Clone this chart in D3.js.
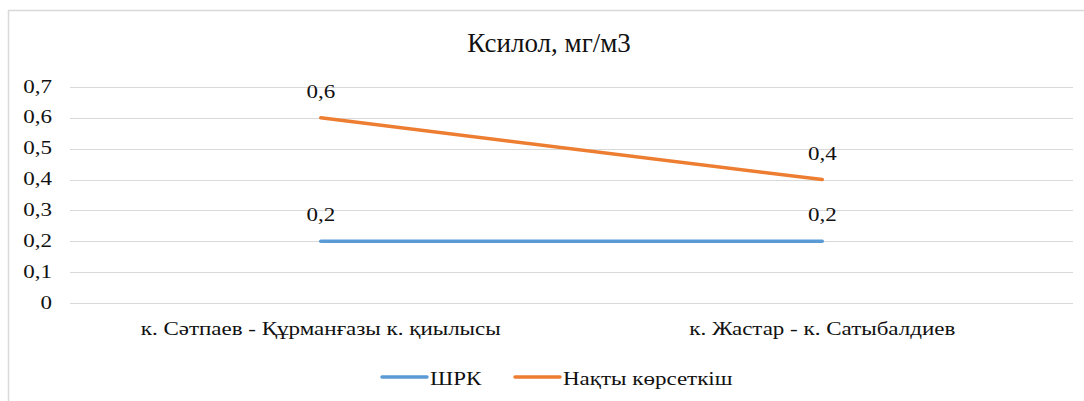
<!DOCTYPE html>
<html><head><meta charset="utf-8">
<script src="https://cdn.jsdelivr.net/npm/d3@7"></script>
<style>body{margin:0;background:#fff;font-family:"Liberation Serif","Times New Roman",Tinos,serif}svg{display:block}
svg text{font-family:"Liberation Serif","Times New Roman",Tinos,serif}</style>
</head><body><svg id="c" width="1084" height="401"></svg>
<script>
const categories = ["к. Сәтпаев - Құрманғазы к. қиылысы", "к. Жастар - к. Сатыбалдиев"];
const seriesNames = ["ШРК", "Нақты көрсеткіш"];
const shrk = [0.2, 0.2];
const nakty = [0.6, 0.4];
const yTicks = [0, 0.1, 0.2, 0.3, 0.4, 0.5, 0.6, 0.7];
const colors = ["#5b9bd5", "#ed7d31"];
const title = "Ксилол, мг/м3";

const svg = d3.select("#c");
const FS = 19.5, SX = 1.18;
const W = 1084, H = 401;

function label(g, x, y, txt, anchor, size, sx) {
  return g.append("text")
    .attr("transform", `translate(${x},${y}) scale(${sx},1)`)
    .attr("text-anchor", anchor)
    .attr("font-size", size)
    .attr("fill", "#111").text(txt);
}

// frame
svg.append("path").attr("d", `M8.5,${H} V10.5 H${W}`).attr("fill","none").attr("stroke","#d9d9d9").attr("stroke-width",1.5);

const x = d3.scaleBand().domain(categories).range([70, 1073]);
const y = d3.scaleLinear().domain([0, 0.7]).range([303, 87]);
const fmt = d => d === 0 ? "0" : d3.format(".1f")(d).replace(".", ",");
const cx = c => x(c) + x.bandwidth() / 2;

// grid
svg.append("g").selectAll("line").data(yTicks).join("line")
  .attr("x1", 70).attr("x2", 1073)
  .attr("y1", d => Math.round(y(d)) + 0.5).attr("y2", d => Math.round(y(d)) + 0.5)
  .attr("stroke", "#d9d9d9").attr("stroke-width", 1);

const gy = svg.append("g");
yTicks.forEach(t => label(gy, 52, y(t) + 5.5, fmt(t), "end", FS, SX));

const gx = svg.append("g");
categories.forEach(c => label(gx, cx(c), 335, c, "middle", FS, SX));

label(svg, 549, 52, title, "middle", 27, 1);

const line = d3.line().x((d, i) => cx(categories[i])).y(d => y(d));
[shrk, nakty].forEach((s, k) => {
  svg.append("path").datum(s).attr("d", line).attr("fill", "none")
    .attr("stroke", colors[k]).attr("stroke-width", 3.5).attr("stroke-linecap", "round");
  const g = svg.append("g");
  s.forEach((v, i) => label(g, cx(categories[i]), y(v) - 20, fmt(v), "middle", FS, SX));
});

// legend
const leg = [{x: 382, tx: 430}, {x: 515, tx: 563}];
seriesNames.forEach((n, k) => {
  svg.append("line").attr("x1", leg[k].x).attr("x2", leg[k].x + 45).attr("y1", 377).attr("y2", 377)
    .attr("stroke", colors[k]).attr("stroke-width", 3.5).attr("stroke-linecap", "round");
  label(svg, leg[k].tx, 384.5, n, "start", FS, SX);
});
</script></body></html>
